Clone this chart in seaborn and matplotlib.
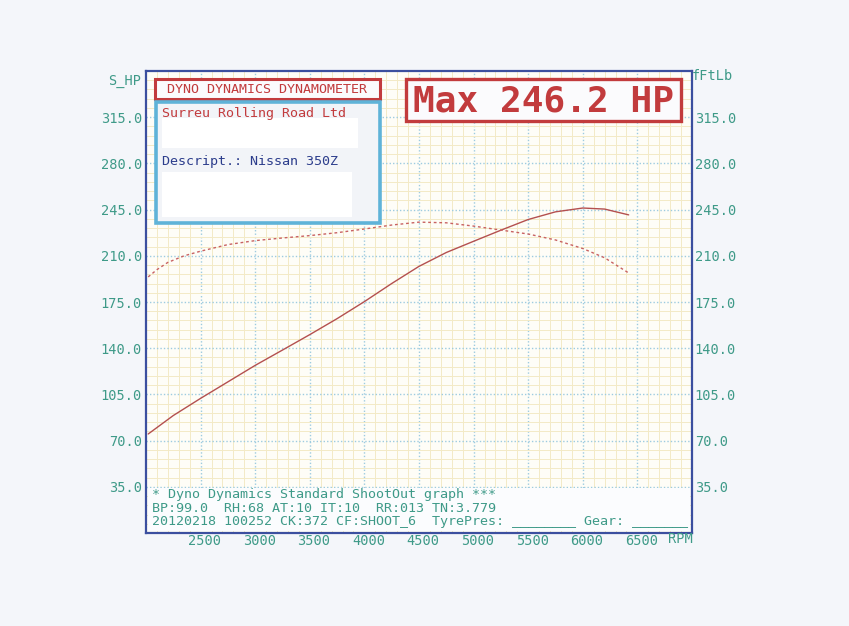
import matplotlib
matplotlib.use("Agg")
import matplotlib.pyplot as plt
import matplotlib.patches as mpatches
import matplotlib.transforms as mtrans
from matplotlib.ticker import MultipleLocator
import pandas as pd
import seaborn as sns

# power curve (solid)
hp_rpm = [2020, 2250, 2500, 2750, 3000, 3250, 3500, 3750, 4000, 4250,
          4500, 4750, 5000, 5250, 5500, 5750, 6000, 6200, 6420]
hp_vals = [75, 89, 102, 114.5, 127, 138.6, 150.3, 162.4, 175.3, 189,
           202, 212.5, 221, 229.4, 237.5, 243.3, 246.2, 245.4, 241]

# torque curve (dotted), ft-lb
tq_rpm = [2020, 2100, 2200, 2350, 2500, 2750, 3000, 3250, 3500, 3750, 4000,
          4250, 4500, 4750, 5000, 5250, 5500, 5750, 6000, 6200, 6420]
tq_vals = [194, 199.5, 205, 210, 213.5, 218.5, 221.5, 223.5, 225.3, 227.5, 230.3,
           233.3, 235.5, 235, 232.5, 229.5, 226.5, 222, 215.5, 208.5, 197]

x_ticks = [2500, 3000, 3500, 4000, 4500, 5000, 5500, 6000, 6500]
y_ticks = [35, 70, 105, 140, 175, 210, 245, 280, 315]

header = "DYNO DYNAMICS DYNAMOMETER"
shop = "Surreu Rolling Road Ltd"
descr = "Descript.: Nissan 350Z"
max_label = "Max 246.2 HP"
footer = ["* Dyno Dynamics Standard ShootOut graph ***",
          "BP:99.0  RH:68 AT:10 IT:10  RR:013 TN:3.779",
          "20120218 100252 CK:372 CF:SHOOT_6  TyrePres: ________ Gear: _______"]

sns.set_style("white")
plt.rcParams["font.family"] = ["DejaVu Sans Mono", "DejaVu Sans"]

W, H = 849, 626
TEAL = "#3e9a88"
RED = "#c23b3d"
NAVY = "#2c3d8c"
FRAME = "#3b4f9f"
CURVE = "#b4504f"

fig = plt.figure(figsize=(W / 100, H / 100), dpi=100)
fig.patch.set_facecolor("#f4f6fa")


def px(x, y):
    return x / W, 1 - y / H


l, t = px(146, 71)
r, b = px(692, 533)
ax = fig.add_axes([l, b, r - l, t - b])
ax.set_facecolor("#fefdf7")

hp_df = pd.DataFrame({"rpm": hp_rpm, "hp": hp_vals})
tq_df = pd.DataFrame({"rpm": tq_rpm, "tq": tq_vals})
sns.lineplot(data=hp_df, x="rpm", y="hp", ax=ax, color=CURVE, lw=1.0, zorder=5)

ax2 = ax.twinx()
sns.lineplot(data=tq_df, x="rpm", y="tq", ax=ax2, color="#c86262", lw=1.0,
             linestyle=(0, (2, 2)), zorder=5)

for a in (ax, ax2):
    a.set_xlim(2000, 7000)
    a.set_ylim(0, 350)
    a.set_xlabel("")
    a.set_ylabel("")

ax.xaxis.set_minor_locator(MultipleLocator(100))
ax.yaxis.set_minor_locator(MultipleLocator(7))
ax.set_xticks(x_ticks)
ax.set_yticks(y_ticks)
ax.grid(which="minor", color="#f3eac6", lw=0.7, ls="-")
ax.grid(which="major", color="#9dcbe0", lw=1.0, ls=(0, (1, 1.5)))
ax.set_axisbelow(True)
ax.set_xticklabels([str(v) for v in x_ticks])
ax.set_yticklabels([f"{v:.1f}" for v in y_ticks])
ax2.set_yticks(y_ticks)
ax2.set_yticklabels([f"{v:.1f}" for v in y_ticks])
ax.tick_params(axis="both", which="both", length=0, labelsize=9.8,
               labelcolor=TEAL, pad=3)
ax.tick_params(axis="x", pad=1)
ax2.tick_params(axis="y", length=0, labelsize=9.8, labelcolor=TEAL, pad=2)
for s in ax2.spines.values():
    s.set_visible(False)
for s in ax.spines.values():
    s.set_color(FRAME)
    s.set_linewidth(1.6)

# x labels sit a little right of their grid lines
off = mtrans.ScaledTranslation(4 / 100, 0, fig.dpi_scale_trans)
for lab in ax.get_xticklabels():
    lab.set_transform(lab.get_transform() + off)

fig.text(*px(141, 81), "S_HP", color=TEAL, fontsize=9.8, ha="right", va="center")
fig.text(*px(692, 76), "fFtLb", color=TEAL, fontsize=9.8, ha="left", va="center")
fig.text(*px(668, 539), "RPM", color=TEAL, fontsize=9.8, ha="left", va="center")


def box(x0, y0, x1, y1, fc, ec=None, lw=0):
    xa, ya = px(x0, y1)
    xb, yb = px(x1, y0)
    rect = mpatches.Rectangle((xa, ya), xb - xa, yb - ya, transform=fig.transFigure,
                              facecolor=fc, edgecolor=ec if ec else "none", lw=lw,
                              zorder=2)
    fig.add_artist(rect)


# header box
box(155, 79, 380, 99, "#fbfbfd", RED, 2.2)
fig.text(*px(267, 89.5), header, color=RED, fontsize=9.6, ha="center", va="center",
         zorder=4)

# shop info box
box(156, 102, 380, 223, "#f2f4f8", "#5fb3d8", 2.6)
box(162, 118, 358, 148, "white")
box(162, 172, 352, 217, "white")
fig.text(*px(162, 113), shop, color=RED, fontsize=9.6, ha="left", va="center", zorder=4)
fig.text(*px(162, 162), descr, color=NAVY, fontsize=9.6, ha="left", va="center", zorder=4)

# max power box
box(406, 79, 681, 121, "#fbfbfd", RED, 2.4)
fig.text(*px(543.5, 101), max_label, color=RED, fontsize=26, fontweight="bold",
         ha="center", va="center", zorder=4)

# footer strip inside frame
box(148, 488, 690, 531, "#fbfcfe")
for i, line in enumerate(footer):
    fig.text(*px(152, 494.5 + i * 13.5), line, color=TEAL, fontsize=9.6,
             ha="left", va="center", zorder=4)

fig.savefig("out.png", dpi=100, facecolor=fig.get_facecolor())
